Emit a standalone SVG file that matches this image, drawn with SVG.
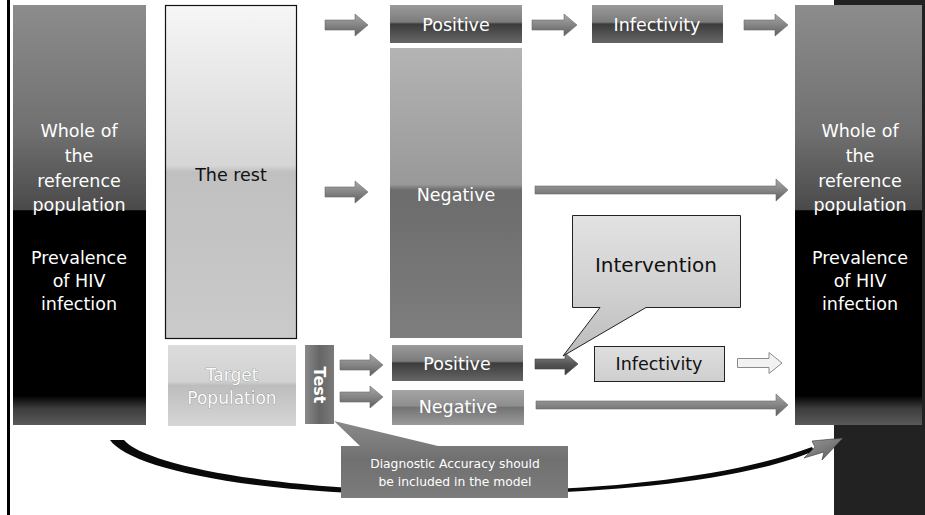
<svg xmlns="http://www.w3.org/2000/svg" width="925" height="515" viewBox="0 0 925 515">
<style>
text{font-family:"DejaVu Sans","Open Sans",sans-serif;text-anchor:middle}
.w{fill:#ffffff;font-size:17.5px}
.b{fill:#111111;font-size:17.5px}
.tp{fill:#fbfbfb;font-size:17px;stroke:#8a8a8a;stroke-width:0.7;paint-order:stroke}
.dg{fill:#ffffff;font-size:12.3px}
.arr{fill:url(#gArr);stroke:#6a6a6a;stroke-width:0.6}
.arrd{fill:url(#gArrD);stroke:#444;stroke-width:0.6}
.arro{fill:#f2f2f2;stroke:#8a8a8a;stroke-width:1}
</style>
<defs>
<linearGradient id="gBig" x1="0" y1="0" x2="0" y2="1">
<stop offset="0" stop-color="#8c8c8c"/><stop offset="0.3" stop-color="#707070"/><stop offset="0.487" stop-color="#4a4a4a"/>
<stop offset="0.49" stop-color="#000"/><stop offset="0.93" stop-color="#000"/><stop offset="0.96" stop-color="#3c3c3c"/><stop offset="1" stop-color="#5a5a5a"/>
</linearGradient>
<linearGradient id="gRest" x1="0" y1="0" x2="0" y2="1">
<stop offset="0" stop-color="#f6f6f6"/><stop offset="0.48" stop-color="#d6d6d6"/><stop offset="0.5" stop-color="#c0c0c0"/><stop offset="1" stop-color="#cacaca"/>
</linearGradient>
<linearGradient id="gNeg" x1="0" y1="0" x2="0" y2="1">
<stop offset="0" stop-color="#b4b4b4"/><stop offset="0.47" stop-color="#999"/><stop offset="0.49" stop-color="#6c6c6c"/><stop offset="1" stop-color="#7e7e7e"/>
</linearGradient>
<linearGradient id="gPos" x1="0" y1="0" x2="0" y2="1">
<stop offset="0" stop-color="#9a9a9a"/><stop offset="0.45" stop-color="#7c7c7c"/><stop offset="0.5" stop-color="#3c3c3c"/><stop offset="1" stop-color="#666"/>
</linearGradient>
<linearGradient id="gNegS" x1="0" y1="0" x2="0" y2="1">
<stop offset="0" stop-color="#a4a4a4"/><stop offset="0.45" stop-color="#8e8e8e"/><stop offset="0.5" stop-color="#747474"/><stop offset="1" stop-color="#9a9a9a"/>
</linearGradient>
<linearGradient id="gTgt" x1="0" y1="0" x2="0" y2="1">
<stop offset="0" stop-color="#dcdcdc"/><stop offset="0.45" stop-color="#d2d2d2"/><stop offset="0.5" stop-color="#bdbdbd"/><stop offset="1" stop-color="#d6d6d6"/>
</linearGradient>
<linearGradient id="gTest" x1="0" y1="0" x2="1" y2="0">
<stop offset="0" stop-color="#8a8a8a"/><stop offset="0.5" stop-color="#666"/><stop offset="1" stop-color="#7a7a7a"/>
</linearGradient>
<linearGradient id="gInt" x1="0" y1="0" x2="0" y2="1">
<stop offset="0" stop-color="#e2e2e2"/><stop offset="0.55" stop-color="#d0d0d0"/><stop offset="1" stop-color="#bcbcbc"/>
</linearGradient>
<linearGradient id="gInf" x1="0" y1="0" x2="0" y2="1">
<stop offset="0" stop-color="#dedede"/><stop offset="1" stop-color="#cfcfcf"/>
</linearGradient>
<linearGradient id="gDiag" x1="0" y1="0" x2="0" y2="1">
<stop offset="0" stop-color="#8a8a8a"/><stop offset="0.5" stop-color="#707070"/><stop offset="1" stop-color="#7c7c7c"/>
</linearGradient>
<linearGradient id="gArr" x1="0" y1="0" x2="0" y2="1">
<stop offset="0" stop-color="#a8a8a8"/><stop offset="0.5" stop-color="#858585"/><stop offset="1" stop-color="#5e5e5e"/>
</linearGradient>
<linearGradient id="gArrD" x1="0" y1="0" x2="0" y2="1">
<stop offset="0" stop-color="#8a8a8a"/><stop offset="0.5" stop-color="#555"/><stop offset="1" stop-color="#3a3a3a"/>
</linearGradient>
<linearGradient id="gHead" x1="0" y1="0" x2="1" y2="1">
<stop offset="0" stop-color="#9a9a9a"/><stop offset="1" stop-color="#5a5a5a"/>
</linearGradient>
</defs>

<rect width="925" height="515" fill="#ffffff"/>
<rect x="7" y="0" width="3" height="515" fill="#000"/>
<rect x="834" y="0" width="91" height="515" fill="#222"/>

<g id="left-population">
<rect x="13" y="5" width="133" height="420" fill="url(#gBig)"/>
<text class="w"><tspan x="79" y="137">Whole of</tspan><tspan x="79" y="162">the</tspan><tspan x="79" y="187">reference</tspan><tspan x="79" y="211">population</tspan></text>
<text class="w"><tspan x="79" y="264">Prevalence</tspan><tspan x="79" y="287">of HIV</tspan><tspan x="79" y="310">infection</tspan></text>
</g>

<g id="the-rest">
<rect x="165.5" y="5.5" width="131" height="333" fill="url(#gRest)" stroke="#111" stroke-width="1.2"/>
<text class="b" x="231" y="181">The rest</text>
</g>

<g id="target-population">
<rect x="168" y="345" width="128" height="81" fill="url(#gTgt)"/>
<text class="tp"><tspan x="232" y="381">Target</tspan><tspan x="232" y="404">Population</tspan></text>
</g>

<g id="test">
<rect x="305" y="345" width="29" height="79" fill="url(#gTest)"/>
<text class="w" font-weight="bold" transform="translate(319.5 385) rotate(90)" y="6" x="0" style="font-size:16px">Test</text>
</g>

<g id="positive-top">
<rect x="390" y="5" width="132" height="38" fill="url(#gPos)"/>
<text class="w" x="456" y="31">Positive</text>
</g>

<g id="infectivity-top">
<rect x="592" y="5" width="131" height="38" fill="url(#gPos)"/>
<text class="w" x="657" y="31">Infectivity</text>
</g>

<g id="negative-main">
<rect x="390" y="48" width="132" height="290" fill="url(#gNeg)"/>
<text class="w" x="456" y="201">Negative</text>
</g>

<g id="positive-bottom">
<rect x="392" y="345" width="131" height="36" fill="url(#gPos)"/>
<text class="w" x="457" y="370">Positive</text>
</g>

<g id="negative-bottom">
<rect x="392" y="390" width="132" height="35" fill="url(#gNegS)"/>
<text class="w" x="458" y="413">Negative</text>
</g>

<g id="infectivity-bottom">
<rect x="594.5" y="346.5" width="130" height="35" fill="url(#gInf)" stroke="#222" stroke-width="1"/>
<text class="b" x="659" y="370">Infectivity</text>
</g>

<g id="right-population">
<rect x="795" y="5" width="127" height="420" fill="url(#gBig)"/>
<text class="w"><tspan x="860" y="137">Whole of</tspan><tspan x="860" y="162">the</tspan><tspan x="860" y="187">reference</tspan><tspan x="860" y="211">population</tspan></text>
<text class="w"><tspan x="860" y="264">Prevalence</tspan><tspan x="860" y="287">of HIV</tspan><tspan x="860" y="310">infection</tspan></text>
</g>

<g id="connectors">
<path class="arr" d="M325,20 H355 V14 L368,25 L355,36 V30 H325 Z"/>
<path class="arr" d="M532,20 H564 V14 L577,25 L564,36 V30 H532 Z"/>
<path class="arr" d="M744,20 H775 V14 L788,25 L775,36 V30 H744 Z"/>
<path class="arr" d="M325,187 H355 V181 L368,192 L355,203 V197 H325 Z"/>
<path class="arr" d="M535,186 H776 V179 L788,190 L776,201 V194 H535 Z"/>
<path class="arr" d="M340,360 H370 V354 L383,365 L370,376 V370 H340 Z"/>
<path class="arr" d="M340,392 H370 V386 L383,397 L370,408 V402 H340 Z"/>
<path class="arrd" d="M535,359 H565 V353 L578,364 L565,375 V369 H535 Z"/>
<path class="arro" d="M737.5,358.5 H769 V352.5 L782,363 L769,373.5 V367.5 H737.5 Z"/>
<path class="arr" d="M536,401 H776 V394 L788,405 L776,416 V409 H536 Z"/>
<path fill="#0a0a0a" d="M110,440 L124,440 C142,462 250,487 420,491 C590,494 730,478 812,447 L814,451 C740,482 600,496 420,495 C235,493 128,466 110,440 Z"/>
<path fill="url(#gHead)" stroke="#333" stroke-width="0.6" d="M843,438 L822,460 L824,452 L804,458 L815,447 L812,441 Z"/>
</g>

<g id="intervention">
<path d="M572.5,215.5 H740.5 V307.5 H646 L563,356 L600,307.5 H572.5 Z" fill="url(#gInt)" stroke="#222" stroke-width="1"/>
<text class="b" x="656" y="272" style="font-size:20px">Intervention</text>
</g>

<g id="diagnostic-accuracy">
<path d="M341,446 H360 L334,421 L438,446 H568 V498 H341 Z" fill="url(#gDiag)"/>
<text class="dg"><tspan x="455" y="468">Diagnostic Accuracy should</tspan><tspan x="455" y="486">be included in the model</tspan></text>
</g>
</svg>
